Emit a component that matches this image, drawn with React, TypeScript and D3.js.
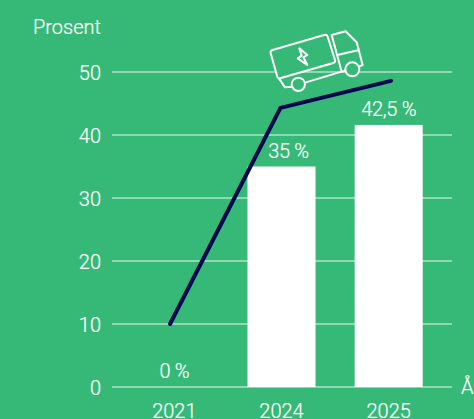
import React from "react";
import * as d3 from "d3";

const W = 474, H = 419;
const categories = ["2021", "2024", "2025"];
const barValues = [0, 35, 41.6];
const barLabels = ["0 %", "35 %", "42,5 %"];
const lineValues = [10, 44.3, 48.6];
const yTicks = [0, 10, 20, 30, 40, 50];
const BG = "#36B976", NAVY = "#00064F";
const FONT = "Roboto, sans-serif";

export default function App() {
  const y = d3.scaleLinear().domain([0, 50]).range([387, 72]);
  const xBand = d3.scaleBand().domain(categories).range([121, 442]).paddingInner(0.365).paddingOuter(0.18);
  const xLine = d3.scalePoint().domain(categories).range([170, 391]);
  const line = d3.line<number>().x((_, i) => xLine(categories[i])!).y(d => y(d));
  const cx = (c: string) => xBand(c)! + xBand.bandwidth() / 2;
  React.useEffect(() => {
    document.body.style.margin = "0";
    document.body.style.background = BG;
  }, []);
  return (
    <svg width={W} height={H} style={{ display: "block", position: "fixed", left: 0, top: 0 }} fontFamily={FONT} fontWeight={300}>
      <rect width={W} height={H} fill={BG} />
      {yTicks.map(t => (
        <g key={t}>
          <line x1={112} x2={452} y1={y(t)} y2={y(t)} stroke="#fff" strokeWidth={0.9} />
          <text x={101} y={y(t) + 7.5} textAnchor="end" fontSize={20} fill="#fff" stroke="#fff" strokeWidth={0.2}>{t}</text>
        </g>
      ))}
      <text x={33} y={34} fontSize={20} fill="#fff" stroke="#fff" strokeWidth={0.2}>Prosent</text>
      <text x={461} y={394} fontSize={20} fill="#fff" stroke="#fff" strokeWidth={0.2}>År</text>
      {categories.map((c, i) => (
        <g key={c}>
          {barValues[i] > 0 && (
            <rect x={xBand(c)} width={xBand.bandwidth()} y={y(barValues[i])} height={y(0) - y(barValues[i])} fill="#fff" />
          )}
          <text x={cx(c) + (i === 1 ? 7 : 0)} y={y(barValues[i]) - 9} textAnchor="middle" fontSize={20} fill="#fff" stroke="#fff" strokeWidth={0.2} letterSpacing={-0.3}>{barLabels[i]}</text>
          <text x={cx(c)} y={418} textAnchor="middle" fontSize={20} fill="#fff" stroke="#fff" strokeWidth={0.2}>{c}</text>
        </g>
      ))}
      <path d={line(lineValues)!} fill="none" stroke={NAVY} strokeWidth={4} strokeLinecap="round" strokeLinejoin="round" />
      <g transform="translate(250,10) scale(0.3333)" fill="none" stroke="#fff" strokeWidth={6} strokeLinejoin="round" strokeLinecap="round">
        <path d="M68,120 L222,75 Q230,73 233,80 L255,150 Q257,157 250,159 L90,205 Q84,207 82,200 L62,130 Q60,122 68,120 Z" fill={BG} />
        <path d="M245,75 L287,64 L320,97 L338,165 L327,170 M262,135 L327,120 M245,75 L275,185 L165,218 M87,205 L105,232 L125,230 M275,185 L287,182" />
        <circle cx={145} cy={223} r={20} fill={BG} />
        <circle cx={307} cy={178} r={21} fill={BG} />
        <path d="M148,115 L172,135 L160,142 L172,165 L143,145 L155,137 Z" />
      </g>
    </svg>
  );
}
